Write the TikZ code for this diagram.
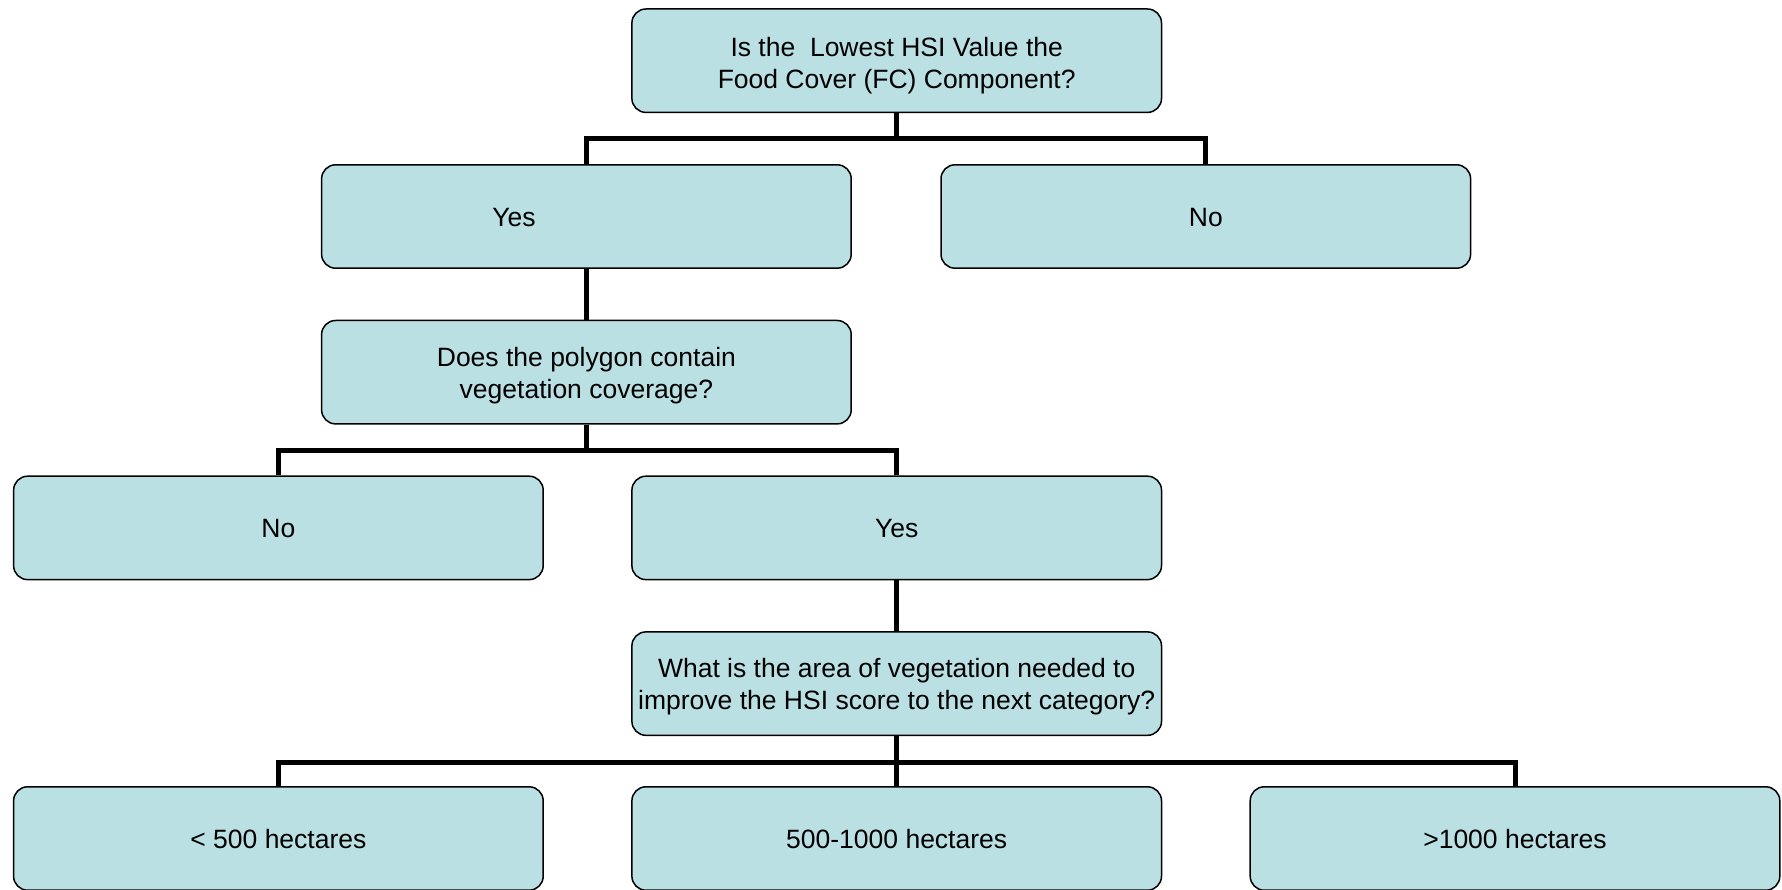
\documentclass[tikz,border=0pt]{standalone}
\usepackage{fontspec}
\setmainfont{Liberation Sans}
\definecolor{boxfill}{RGB}{186,224,228}
\newcommand\txtdown[2]{\raisebox{-#1}[\height][\depth]{\begin{tabular}{@{}c@{}}#2\end{tabular}}}
\begin{document}
\begin{tikzpicture}[x=1pt,y=-1pt,
  box/.style={draw=black, line width=1.5pt, fill=boxfill, rounded corners=14pt,
    minimum width=529.6pt, minimum height=103.4pt, inner sep=0pt, align=center,
    font=\fontsize{26.5}{32}\selectfont},
  link/.style={line width=5pt, draw=black, line join=miter}]
\useasboundingbox (0,0) rectangle (1782,890);
\node[box] (q1) at (896.7,60.7) {\txtdown{5.5pt}{Is the \ Lowest HSI Value the\\Food Cover (FC) Component?}};
\node[box] (yes1) at (586.4,216.5) {\txtdown{3.5pt}{Yes\rule{145pt}{0pt}}};
\node[box] (no1) at (1205.8,216.5) {\txtdown{3.5pt}{No}};
\node[box] (q2) at (586.4,372.2) {\txtdown{3.5pt}{Does the polygon contain\\vegetation coverage?}};
\node[box] (no2) at (278.4,527.9) {\txtdown{3.5pt}{No}};
\node[box] (yes2) at (896.7,527.9) {\txtdown{3.5pt}{Yes}};
\node[box] (q3) at (896.7,683.6) {\txtdown{3.5pt}{What is the area of vegetation needed to\\improve the HSI score to the next category?}};
\node[box] (a1) at (278.4,838.5) {\txtdown{3.5pt}{< 500 hectares}};
\node[box] (a2) at (896.7,838.5) {\txtdown{3.5pt}{500-1000 hectares}};
\node[box] (a3) at (1515,838.5) {\txtdown{3.5pt}{>1000 hectares}};
\coordinate (bar1) at (0,138.6);
\coordinate (bar2) at (0,450);
\coordinate (bar3) at (0,762);
\draw[link] (q1.south) -- (q1.south |- bar1);
\draw[link] (yes1.north) |- (no1.north |- bar1) -- (no1.north);
\draw[link] (yes1.south) -- (q2.north);
\draw[link] (q2.south) -- (q2.south |- bar2);
\draw[link] (no2.north) |- (yes2.north |- bar2) -- (yes2.north);
\draw[link] (yes2.south) -- (q3.north);
\draw[link] (q3.south) -- (a2.north);
\draw[link] (a1.north) |- (a3.north |- bar3) -- (a3.north);
\end{tikzpicture}
\end{document}
